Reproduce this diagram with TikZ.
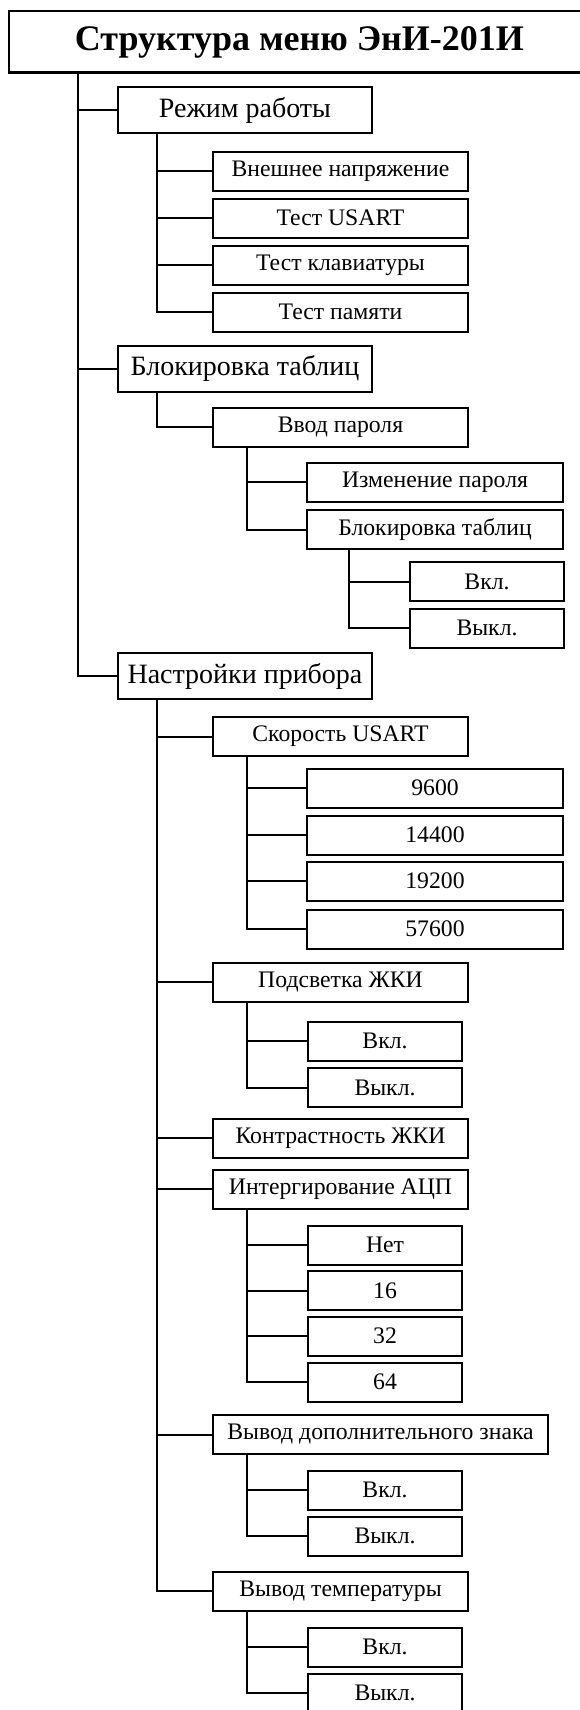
\documentclass[tikz,border=0pt]{standalone}
\usepackage{fontspec}
\setmainfont{Liberation Serif}
\begin{document}
\begin{tikzpicture}[x=1pt,y=-1pt,line width=2pt,
  box/.style={draw,line width=2pt,inner sep=0pt,minimum height=39pt,font=\fontsize{23.7}{28}\selectfont},
  wide/.style={box,minimum width=256pt},
  mid/.style={box,minimum width=255pt},
  short/.style={box,minimum width=154pt},
  lone/.style={draw,line width=2pt,inner sep=0pt,minimum width=254pt,minimum height=46pt,font=\fontsize{28}{32}\selectfont},
  titlebox/.style={draw,line width=2pt,inner sep=0pt,minimum width=581pt,minimum height=61pt,font=\fontsize{36}{40}\selectfont\bfseries},
  link/.style={line width=2pt}]
\useasboundingbox (0,0) rectangle (579,1710);
\fill[white] (0,0) rectangle (579,1710);

\node[titlebox] (title) at (299.5,42) {Структура меню ЭнИ-201И};

% level 1
\node[lone] (rr) at (245,110) {Режим работы};
\node[lone] (bt) at (245,368.5) {Блокировка таблиц};
\node[lone] (np) at (245,676) {Настройки прибора};

% level 2
\node[mid] (vn) at (340.5,171) {Внешнее напряжение};
\node[mid] (tu) at (340.5,218) {Тест USART};
\node[mid] (tk) at (340.5,265) {Тест клавиатуры};
\node[mid] (tp) at (340.5,312) {Тест памяти};
\node[mid] (vp) at (340.5,427) {Ввод пароля};
\node[mid] (su) at (340.5,736.5) {Скорость USART};
\node[mid] (pz) at (340.5,982) {Подсветка ЖКИ};
\node[mid] (kz) at (340.5,1138) {Контрастность ЖКИ};
\node[mid] (ia) at (340.5,1189) {Интергирование АЦП};
\node[box,minimum width=335pt] (vd) at (380.5,1434.5) {Вывод дополнительного знака};
\node[mid] (vt) at (340.5,1591) {Вывод температуры};

% level 3
\node[wide] (ip) at (435,482) {Изменение пароля};
\node[wide] (bt2) at (435,529.5) {Блокировка таблиц};
\node[wide] (s1) at (435,788) {9600};
\node[wide] (s2) at (435,835) {14400};
\node[wide] (s3) at (435,881) {19200};
\node[wide] (s4) at (435,929) {57600};
\node[short] (pv) at (385,1041) {Вкл.};
\node[short] (pvo) at (385,1087.5) {Выкл.};
\node[short] (n0) at (385,1245) {Нет};
\node[short] (n16) at (385,1290.5) {16};
\node[short] (n32) at (385,1336) {32};
\node[short] (n64) at (385,1382) {64};
\node[short] (dv) at (385,1490) {Вкл.};
\node[short] (dvo) at (385,1536) {Выкл.};
\node[short] (tv) at (385,1647) {Вкл.};
\node[short] (tvo) at (385,1693) {Выкл.};

% level 4
\node[short] (on1) at (487,581.5) {Вкл.};
\node[short] (off1) at (487,628) {Выкл.};

% junction points
\coordinate (j0) at (78,72.5);
\coordinate (jrr) at (157,133);
\coordinate (jbt) at (157,392);
\coordinate (jnp) at (157,699);
\coordinate (jvp) at (247,446);
\coordinate (jbt2) at (349,549);
\coordinate (jsu) at (247,756);
\coordinate (jpz) at (247,1002);
\coordinate (jia) at (247,1208);
\coordinate (jvd) at (247,1454);
\coordinate (jvt) at (247,1611);

% connectors
\draw[link] (j0) |- (rr.west);
\draw[link] (j0) |- (bt.west);
\draw[link] (j0) |- (np.west);

\draw[link] (jrr) |- (vn.west);
\draw[link] (jrr) |- (tu.west);
\draw[link] (jrr) |- (tk.west);
\draw[link] (jrr) |- (tp.west);

\draw[link] (jbt) |- (vp.west);
\draw[link] (jvp) |- (ip.west);
\draw[link] (jvp) |- (bt2.west);
\draw[link] (jbt2) |- (on1.west);
\draw[link] (jbt2) |- (off1.west);

\draw[link] (jnp) |- (su.west);
\draw[link] (jnp) |- (pz.west);
\draw[link] (jnp) |- (kz.west);
\draw[link] (jnp) |- (ia.west);
\draw[link] (jnp) |- (vd.west);
\draw[link] (jnp) |- (vt.west);

\draw[link] (jsu) |- (s1.west);
\draw[link] (jsu) |- (s2.west);
\draw[link] (jsu) |- (s3.west);
\draw[link] (jsu) |- (s4.west);

\draw[link] (jpz) |- (pv.west);
\draw[link] (jpz) |- (pvo.west);

\draw[link] (jia) |- (n0.west);
\draw[link] (jia) |- (n16.west);
\draw[link] (jia) |- (n32.west);
\draw[link] (jia) |- (n64.west);

\draw[link] (jvd) |- (dv.west);
\draw[link] (jvd) |- (dvo.west);

\draw[link] (jvt) |- (tv.west);
\draw[link] (jvt) |- (tvo.west);
\end{tikzpicture}
\end{document}
